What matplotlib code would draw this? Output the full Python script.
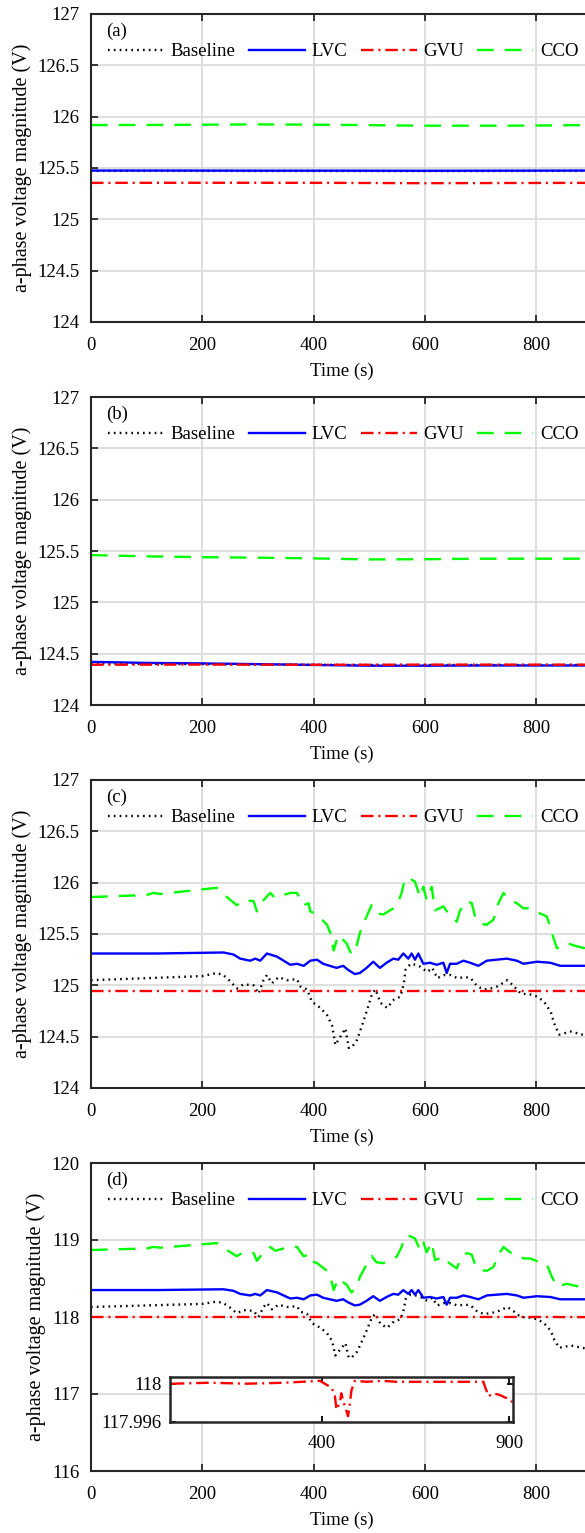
import numpy as np
import matplotlib
matplotlib.use('Agg')
import matplotlib.pyplot as plt
from matplotlib.ticker import FormatStrFormatter

plt.rcParams['font.family'] = ['Liberation Serif', 'DejaVu Serif']
plt.rcParams['font.size'] = 13.5
plt.rcParams['lines.scale_dashes'] = False

names = ['Baseline', 'LVC', 'GVU', 'CCO']
panel_tags = ['(a)', '(b)', '(c)', '(d)']

# ---- (a) ----
t_a = [0, 150, 300, 450, 600, 750, 900]
base_a = [125.472, 125.472, 125.471, 125.471, 125.470, 125.471, 125.472]
lvc_a = [125.475, 125.475, 125.474, 125.474, 125.473, 125.474, 125.475]
gvu_a = [125.355, 125.356, 125.356, 125.355, 125.352, 125.354, 125.355]
cco_a = [125.918, 125.920, 125.925, 125.920, 125.912, 125.912, 125.918]

# ---- (b) ----
t_b = [0, 100, 200, 300, 400, 500, 600, 700, 800, 900]
base_b = [124.405, 124.400, 124.398, 124.395, 124.392, 124.390, 124.390, 124.390, 124.390, 124.390]
lvc_b = [124.420, 124.410, 124.405, 124.398, 124.390, 124.383, 124.383, 124.385, 124.385, 124.385]
gvu_b = [124.392, 124.393, 124.394, 124.393, 124.392, 124.392, 124.393, 124.393, 124.393, 124.393]
cco_b = [125.460, 125.448, 125.440, 125.435, 125.428, 125.418, 125.420, 125.425, 125.425, 125.425]

# ---- (c) ----
t_cco_c = [0, 100, 112, 125, 226, 244, 262, 274, 292, 298, 310, 322, 331, 346, 358, 370,
           382, 391, 394, 406, 424, 430, 436, 444, 459, 468, 477, 483, 495, 504, 513, 525,
           537, 549, 558, 564, 573, 582, 591, 597, 603, 612, 618, 633, 642, 657, 663, 675,
           684, 690, 699, 711, 723, 732, 741, 753, 765, 777, 789, 807, 819, 828, 837, 855,
           873, 888, 900]
cco_c = [125.86, 125.88, 125.90, 125.89, 125.95, 125.86, 125.78, 125.83, 125.82, 125.72,
         125.83, 125.90, 125.85, 125.88, 125.90, 125.90, 125.78, 125.80, 125.72, 125.69,
         125.59, 125.51, 125.34, 125.49, 125.41, 125.30, 125.38, 125.51, 125.67, 125.78,
         125.70, 125.69, 125.73, 125.77, 125.90, 126.04, 126.04, 126.01, 125.86, 125.96,
         125.83, 125.96, 125.73, 125.77, 125.70, 125.62, 125.73, 125.82, 125.80, 125.67,
         125.60, 125.59, 125.64, 125.80, 125.90, 125.83, 125.80, 125.75, 125.75, 125.70,
         125.67, 125.51, 125.36, 125.41, 125.38, 125.36, 125.36]

t_lvc_c = [0, 118, 238, 256, 268, 286, 295, 304, 316, 334, 346, 358, 370, 382, 394, 406,
           417, 429, 441, 453, 462, 474, 483, 495, 507, 519, 531, 543, 552, 561, 570, 576,
           582, 588, 597, 609, 621, 633, 639, 645, 657, 669, 681, 696, 711, 729, 747, 765,
           777, 801, 825, 843, 888, 900]
lvc_c = [125.31, 125.31, 125.32, 125.30, 125.26, 125.24, 125.26, 125.24, 125.31, 125.28,
         125.24, 125.20, 125.21, 125.19, 125.24, 125.25, 125.21, 125.19, 125.17, 125.19,
         125.15, 125.11, 125.12, 125.17, 125.23, 125.17, 125.22, 125.26, 125.25, 125.31,
         125.26, 125.31, 125.25, 125.31, 125.21, 125.22, 125.20, 125.22, 125.12, 125.21,
         125.21, 125.24, 125.22, 125.19, 125.24, 125.25, 125.26, 125.24, 125.21, 125.23,
         125.22, 125.19, 125.19, 125.18]

t_base_c = [0, 200, 226, 238, 250, 262, 274, 292, 301, 310, 316, 325, 337, 352, 370, 376,
            388, 397, 412, 424, 433, 439, 448, 457, 463, 469, 478, 487, 496, 505, 511, 520,
            532, 544, 556, 562, 565, 574, 583, 592, 604, 613, 622, 634, 646, 658, 673, 682,
            694, 706, 718, 730, 748, 760, 772, 790, 802, 814, 826, 832, 841, 862, 889, 900]
base_c = [125.05, 125.09, 125.12, 125.10, 125.04, 124.97, 125.01, 125.00, 124.92, 125.05,
          125.10, 125.02, 125.08, 125.05, 125.06, 124.99, 124.96, 124.84, 124.78, 124.71,
          124.61, 124.42, 124.50, 124.58, 124.39, 124.40, 124.47, 124.61, 124.76, 124.92,
          124.96, 124.83, 124.78, 124.86, 124.89, 125.02, 125.15, 125.21, 125.20, 125.18,
          125.13, 125.17, 125.07, 125.10, 125.10, 125.07, 125.08, 125.07, 124.99, 124.96,
          124.97, 124.99, 125.05, 124.99, 124.92, 124.91, 124.89, 124.84, 124.74, 124.63,
          124.52, 124.55, 124.51, 124.50]

t_gvu_c = [0, 300, 600, 900]
gvu_c = [124.94, 124.94, 124.94, 124.94]

# ---- (d) ----
cco_d = [118.87, 118.89, 118.91, 118.90, 118.96, 118.87, 118.79, 118.84, 118.83, 118.73,
         118.84, 118.91, 118.86, 118.89, 118.91, 118.91, 118.79, 118.81, 118.73, 118.70,
         118.60, 118.52, 118.35, 118.50, 118.42, 118.32, 118.39, 118.52, 118.68, 118.79,
         118.71, 118.70, 118.74, 118.78, 118.91, 119.05, 119.05, 119.02, 118.87, 118.97,
         118.84, 118.97, 118.74, 118.78, 118.71, 118.63, 118.74, 118.83, 118.81, 118.68,
         118.61, 118.60, 118.65, 118.81, 118.91, 118.84, 118.81, 118.76, 118.76, 118.71,
         118.68, 118.52, 118.40, 118.43, 118.40, 118.39, 118.39]
lvc_d = [118.35, 118.35, 118.36, 118.34, 118.30, 118.28, 118.30, 118.28, 118.35, 118.32,
         118.28, 118.24, 118.25, 118.23, 118.28, 118.29, 118.25, 118.23, 118.21, 118.23,
         118.19, 118.15, 118.16, 118.21, 118.27, 118.21, 118.26, 118.30, 118.29, 118.35,
         118.30, 118.35, 118.29, 118.35, 118.25, 118.26, 118.24, 118.26, 118.16, 118.25,
         118.25, 118.28, 118.26, 118.23, 118.28, 118.29, 118.30, 118.28, 118.25, 118.27,
         118.26, 118.23, 118.23, 118.22]
base_d = [118.13, 118.17, 118.20, 118.18, 118.12, 118.05, 118.09, 118.08, 118.00, 118.13,
          118.18, 118.10, 118.16, 118.13, 118.14, 118.07, 118.04, 117.92, 117.86, 117.79,
          117.69, 117.50, 117.58, 117.66, 117.47, 117.48, 117.55, 117.69, 117.84, 118.00,
          118.04, 117.91, 117.86, 117.94, 117.97, 118.10, 118.23, 118.29, 118.28, 118.26,
          118.21, 118.25, 118.15, 118.18, 118.18, 118.15, 118.16, 118.15, 118.07, 118.04,
          118.05, 118.07, 118.13, 118.07, 118.00, 117.99, 117.97, 117.92, 117.82, 117.71,
          117.60, 117.63, 117.59, 117.58]
t_gvu_d = [0, 100, 200, 300, 395, 412, 426, 435, 439, 448, 452, 457, 466, 470, 475, 479,
           488, 520, 560, 600, 700, 831, 836, 845, 858, 876, 903, 910]
gvu_d = [118.0000, 118.0001, 118.0000, 118.0001, 118.0003, 117.9999, 117.9996, 117.9987,
         117.9973, 117.9980, 117.9990, 117.9982, 117.9971, 117.9966, 117.9980, 117.9993,
         118.0003, 118.0002, 118.0003, 118.0002, 118.0002, 118.0002, 117.9996, 117.9987,
         117.9990, 117.9988, 117.9983, 117.9980]

panels = [
    [(t_a, base_a), (t_a, lvc_a), (t_a, gvu_a), (t_a, cco_a)],
    [(t_b, base_b), (t_b, lvc_b), (t_b, gvu_b), (t_b, cco_b)],
    [(t_base_c, base_c), (t_lvc_c, lvc_c), (t_gvu_c, gvu_c), (t_cco_c, cco_c)],
    [(t_base_c, base_d), (t_lvc_c, lvc_d), (t_gvu_d, gvu_d), (t_cco_c, cco_d)],
]
ylims = [(124, 127), (124, 127), (124, 127), (116, 120)]
yticks = [np.arange(124, 127.01, 0.5)] * 3 + [np.arange(116, 120.01, 1)]

styles = [
    dict(color='k', linestyle=(0, (1.2, 3.0))),
    dict(color='#0000ff', linestyle='-'),
    dict(color='#ff0000', linestyle=(0, (9, 3.5, 1.5, 3.5))),
    dict(color='#00ff00', linestyle=(0, (12, 8))),
]

W, H = 585, 1533
fig = plt.figure(figsize=(W / 100, H / 100), dpi=100)

for i in range(4):
    top = 14 + 383 * i
    ax = fig.add_axes([91 / W, 1 - (top + 308) / H, 501 / W, 308 / H])
    for (tt, vv), nm, st in zip(panels[i], names, styles):
        ax.plot(tt, vv, lw=1.7, label=nm, **st)
    ax.set_xlim(0, 900)
    ax.set_ylim(*ylims[i])
    ax.set_xticks([0, 200, 400, 600, 800])
    ax.set_yticks(yticks[i])
    ax.yaxis.set_major_formatter(FormatStrFormatter('%g'))
    ax.grid(True, color='#dcdcdc', lw=1.3)
    ax.set_axisbelow(True)
    ax.tick_params(direction='in', top=True, right=True, length=5, width=1.3,
                   color='#262626')
    ax.tick_params(axis='x', pad=11)
    ax.tick_params(axis='y', pad=8)
    for s in ax.spines.values():
        s.set_linewidth(1.5)
        s.set_color('#262626')
    ax.set_xlabel('Time (s)', labelpad=6)
    ax.set_ylabel('a-phase voltage magnitude (V)', fontsize=14.5, labelpad=4)
    ax.text(0.03, 0.945, panel_tags[i], transform=ax.transAxes, ha='left', va='center')
    ax.legend(loc='center left', bbox_to_anchor=(0.034, 0.877), ncol=4, frameon=False,
              borderpad=0, borderaxespad=0, handlelength=3.0, handletextpad=0.35,
              columnspacing=0.7)

# inset for GVU in (d)
ins = fig.add_axes([170 / W, 1 - 1422 / H, 343 / W, 45 / H])
ins.plot(t_gvu_d, gvu_d, lw=1.7, **styles[2])
ins.set_xlim(-5, 910)
ins.set_ylim(117.996, 118.0007)
ins.set_xticks([400, 900])
ins.set_yticks([117.996, 118])
ins.yaxis.set_major_formatter(FormatStrFormatter('%g'))
ins.tick_params(direction='in', top=True, right=True, length=4, width=1.3, pad=6)
ins.tick_params(axis='x', pad=9)
for s in ins.spines.values():
    s.set_linewidth(1.8)
    s.set_color('#262626')

fig.savefig('out.png', dpi=100)
